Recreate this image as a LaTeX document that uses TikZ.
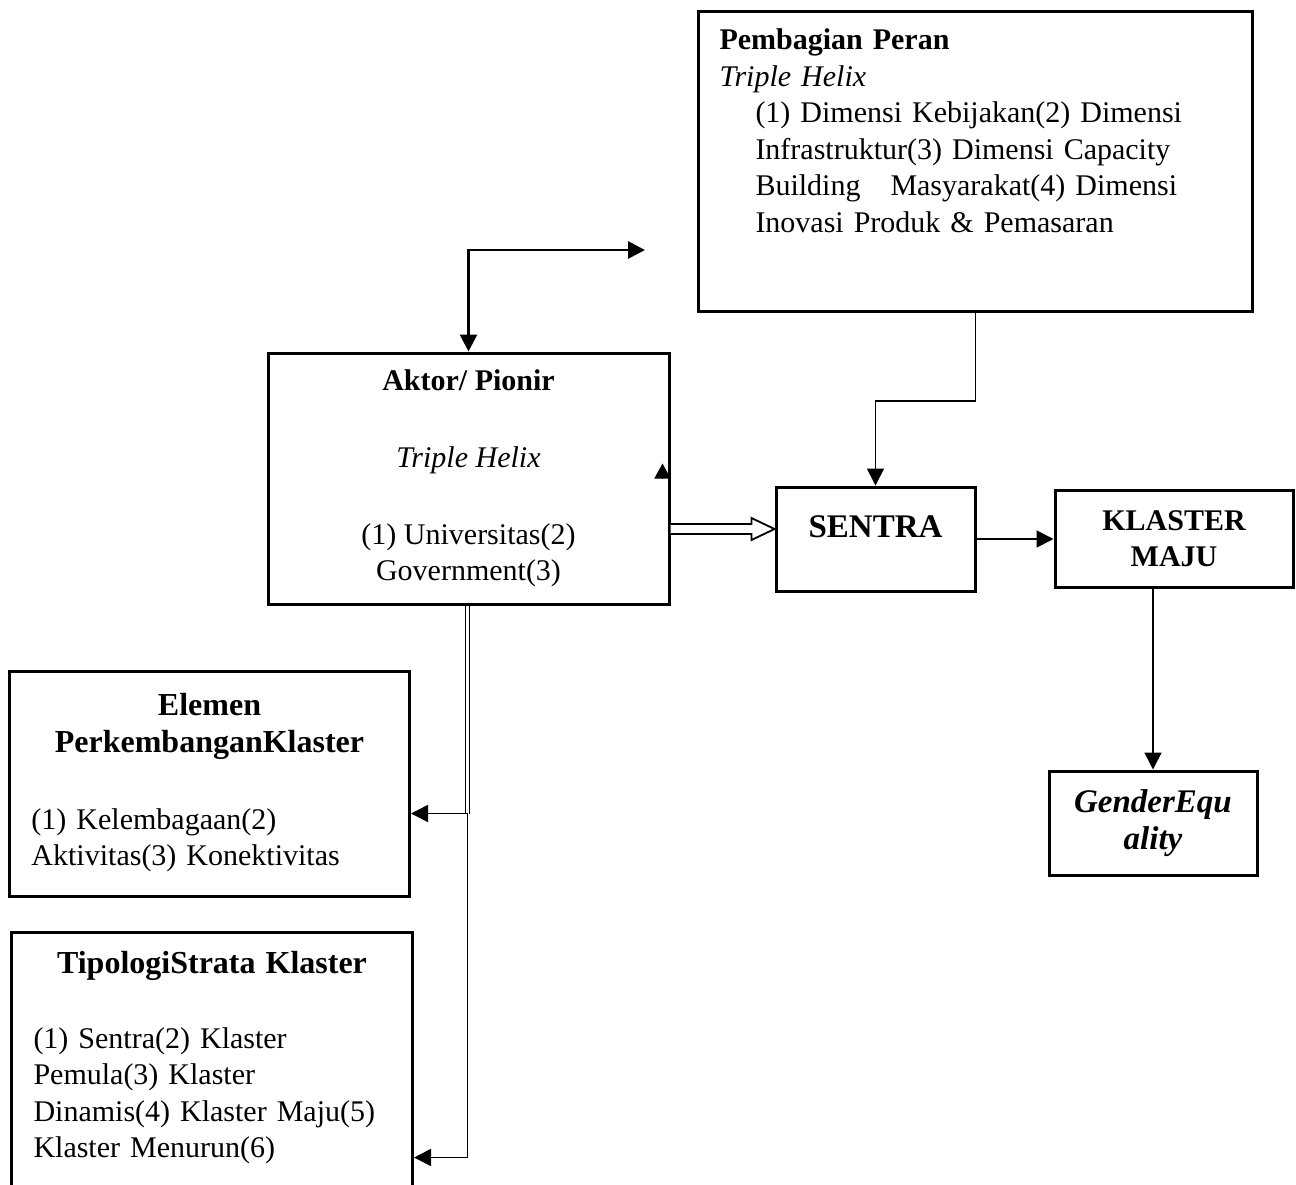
\documentclass[tikz,border=0pt]{standalone}
\usepackage{fontspec}
\setmainfont{Liberation Serif}
\usetikzlibrary{positioning,arrows.meta,calc}
\tikzset{
  th-box/.style={
    draw=black, line width=1.5pt, fill=white,
    font=\fontsize{15pt}{18.3pt}\selectfont, inner sep=0pt
  },
  th-head/.style={th-box, font=\fontsize{15pt}{18pt}\selectfont\bfseries,
    align=center},
  th-flow/.style={-{Triangle[length=8.5pt,width=8.5pt]}, line width=0.8pt},
  th-flow-b/.style={th-flow, line width=1.4pt},
  th-twin/.style={double, double distance=1.2pt, line width=0.5pt}
}

\begin{document}
\begin{tikzpicture}[x=0.5pt, y=-0.5pt]
\useasboundingbox (0,0) rectangle (1296,1184);

\node[th-box, anchor=north west, text width=256pt, inner xsep=10.5pt,
  inner ysep=8.5pt, text height=10.5pt, text depth=122.5pt] (peran) at (697,10)
  {\textbf{Pembagian Peran}\\
   \textit{Triple Helix}\par
   \leftskip=18pt (1) Dimensi Kebijakan(2) Dimensi\\
   Infrastruktur(3) Dimensi Capacity\\
   Building\quad Masyarakat(4) Dimensi\\
   Inovasi Produk \& Pemasaran\par};

\node[th-box, align=center, minimum width=200.5pt, minimum height=125.5pt]
  (aktor) at (468.5,478.5)
  {\textbf{Aktor/ Pionir}\\[20pt]
   \textit{Triple Helix}\\[20pt]
   (1) Universitas(2)\\ Government(3)};

\node[th-box, font=\fontsize{16.5pt}{19pt}\selectfont\bfseries,
  minimum width=99.5pt, minimum height=52pt, text height=12pt,
  text depth=13.4pt] (sentra) at (875.5,539) {SENTRA};
\node[th-head, minimum width=119pt, minimum height=48.5pt]
  (klaster) at (1174,538.5) {KLASTER\\ MAJU};
\node[th-head, font=\fontsize{16.5pt}{18.5pt}\selectfont\bfseries\itshape,
  minimum width=104pt, minimum height=52pt] (gender) at (1153,823)
  {GenderEqu\\ ality};

\node[th-box, anchor=north west, text width=178pt, inner xsep=11pt,
  inner ysep=11.5pt, text height=10.5pt, text depth=79pt] (elemen) at (8,670)
  {{\centering\fontsize{16pt}{18.5pt}\selectfont\bfseries
    Elemen\\ PerkembanganKlaster\par}\vspace{20pt}
   (1) Kelembagaan(2)\\ Aktivitas(3) Konektivitas\par};
\node[th-box, anchor=north west, text width=178.5pt, inner xsep=11pt,
  inner ysep=10pt, text height=10.5pt, text depth=124pt] (tipologi)
  at (10,931)
  {{\centering\fontsize{16pt}{18.5pt}\selectfont\bfseries
    TipologiStrata Klaster\par}\vspace{19pt}
   (1) Sentra(2) Klaster\\ Pemula(3) Klaster\\
   Dinamis(4) Klaster Maju(5)\\ Klaster Menurun(6)\par};

% aktor <-> peran
\coordinate (ujung) at (645,250);
\draw[th-flow-b, {Triangle[length=8.5pt,width=8.5pt]}-{Triangle[length=8.5pt,width=8.5pt]}]
  (ujung) -| (aktor.north);
\draw[-{Triangle[length=7.5pt,width=8pt]}, line width=0.8pt]
  ($(aktor.east)+(-8,0)$) -- ++(0,-15);

% hollow arrow aktor -> sentra
\coordinate (hA) at ($(aktor.east)+(0,50.5)$);
\coordinate (hB) at ($(sentra.west)+(0,-10)$);
\draw[line width=0.9pt, fill=white] ($(hA)+(0,-5)$) -- ($(hB)+(-23,-5)$)
  -- ($(hB)+(-23,-11)$) -- (hB) -- ($(hB)+(-23,11)$) -- ($(hB)+(-23,5)$)
  -- ($(hA)+(0,5)$);

\draw[th-flow] (peran.south) -- ++(0,88) -| (sentra.north);
\draw[th-flow] (sentra.east) -- (sentra.east -| klaster.west);
\draw[th-flow] (klaster.south -| gender.north) -- (gender.north);

% aktor -> elemen, tipologi
\coordinate (belok1) at ($(aktor.south)+(-1,208)$);
\coordinate (belok2) at ($(belok1)+(0,344)$);
\draw[th-twin] ($(aktor.south)+(-1,0)$) -- (belok1);
\draw[th-flow] (belok1) -- (belok1 -| elemen.east);
\draw[th-flow] (belok1) -- (belok2) -- (belok2 -| tipologi.east);
\end{tikzpicture}
\end{document}
